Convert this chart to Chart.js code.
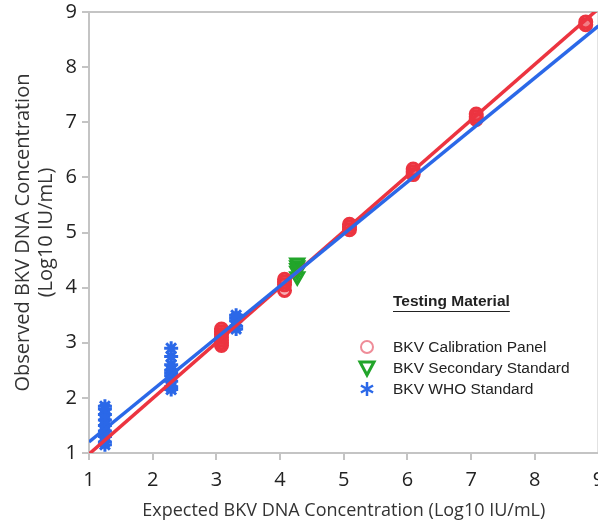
<!DOCTYPE html>
<html>
<head>
<meta charset="utf-8">
<script src="https://cdn.jsdelivr.net/npm/chart.js@4"></script>
<style>
  html, body { margin: 0; padding: 0; background: #fff; overflow: hidden; }
  #wrap { width: 598px; height: 523px; overflow: hidden; }
</style>
</head>
<body>
<div id="wrap"><canvas id="bkvChart" width="609" height="523"></canvas></div>
<script>
// tick labels
const tickValues = [1, 2, 3, 4, 5, 6, 7, 8, 9];

// BKV Calibration Panel (red circles)
const calibX = [3.08, 3.08, 3.08, 3.08, 3.08, 3.08, 3.08, 4.07, 4.07, 4.07, 4.07, 5.09, 5.09, 5.09, 6.09, 6.09, 6.09, 7.08, 7.08, 7.08, 8.8, 8.8];
const calibY = [2.95, 3.0, 3.05, 3.1, 3.15, 3.2, 3.25, 3.95, 4.05, 4.1, 4.15, 5.05, 5.1, 5.15, 6.05, 6.1, 6.15, 7.05, 7.1, 7.15, 8.77, 8.82];

// BKV Secondary Standard (green triangles)
const secX = [4.27, 4.27, 4.27, 4.27, 4.27];
const secY = [4.2, 4.3, 4.35, 4.4, 4.45];

// BKV WHO Standard (blue asterisks)
const whoX = [1.25, 1.25, 1.25, 1.25, 1.25, 1.25, 1.25, 1.25, 1.25, 2.29, 2.29, 2.29, 2.29, 2.29, 2.29, 2.29, 2.29, 2.29, 3.31, 3.31, 3.31, 3.31, 3.31];
const whoY = [1.15, 1.2, 1.3, 1.4, 1.5, 1.6, 1.7, 1.8, 1.85, 2.15, 2.2, 2.3, 2.4, 2.45, 2.5, 2.6, 2.75, 2.9, 3.25, 3.3, 3.4, 3.45, 3.5];

// fitted lines (end points)
const fitX = [1, 9];
const redFitY = [0.98, 9.06];
const blueFitY = [1.2, 8.75];

const RED = '#ec3440';
const BLUE = '#2b68e8';
const GREEN = '#22a52a';

function toPoints(xs, ys) {
    return xs.map((x, i) => ({ x: x, y: ys[i] }));
}

// frame around the plot area + custom legend
const framePlugin = {
    id: 'frame',
    beforeDatasetsDraw(chart) {
        const a = chart.chartArea;
        const c = chart.ctx;
        c.save();
        c.strokeStyle = '#c4c4c4';
        c.lineWidth = 2;
        c.strokeRect(a.left, a.top, a.right - a.left, a.bottom - a.top);
        c.restore();
    },
    afterDraw(chart) {
        const c = chart.ctx;
        c.save();
        c.fillStyle = '#222';
        c.font = 'bold 15.5px "Liberation Sans", Arial, sans-serif';
        c.textBaseline = 'middle';
        c.textAlign = 'left';
        c.fillText('Testing Material', 393, 302);
        const w = c.measureText('Testing Material').width;
        c.strokeStyle = '#222';
        c.lineWidth = 1;
        c.beginPath();
        c.moveTo(393, 311.5);
        c.lineTo(393 + w, 311.5);
        c.stroke();

        c.font = '15.5px "Liberation Sans", Arial, sans-serif';
        c.fillText('BKV Calibration Panel', 393, 348);
        c.fillText('BKV Secondary Standard', 393, 369);
        c.fillText('BKV WHO Standard', 393, 390);

        // circle
        c.strokeStyle = '#ef8c98';
        c.lineWidth = 2;
        c.beginPath();
        c.arc(367, 347, 6, 0, Math.PI * 2);
        c.stroke();
        // triangle down
        c.strokeStyle = GREEN;
        c.lineWidth = 3;
        c.beginPath();
        c.moveTo(360, 362);
        c.lineTo(374, 362);
        c.lineTo(367, 375);
        c.closePath();
        c.stroke();
        // asterisk
        c.strokeStyle = BLUE;
        c.lineWidth = 2.5;
        c.beginPath();
        for (let k = 0; k < 3; k++) {
            const ang = Math.PI / 2 + k * Math.PI / 3;
            c.moveTo(367 - 7 * Math.cos(ang), 389 - 7 * Math.sin(ang));
            c.lineTo(367 + 7 * Math.cos(ang), 389 + 7 * Math.sin(ang));
        }
        c.stroke();
        c.restore();
    }
};

const ctx = document.getElementById('bkvChart').getContext('2d');
const bkvChart = new Chart(ctx, {
    type: 'scatter',
    data: {
        datasets: [
            {
                label: 'BKV WHO Standard',
                data: toPoints(whoX, whoY),
                pointStyle: 'star',
                pointRadius: 7,
                borderWidth: 3,
                borderColor: BLUE,
                backgroundColor: BLUE,
                order: 3
            },
            {
                label: 'BKV Calibration Panel',
                data: toPoints(calibX, calibY),
                pointStyle: 'circle',
                pointRadius: 6,
                borderWidth: 3,
                borderColor: RED,
                backgroundColor: 'rgba(236,52,64,0.4)',
                order: 4
            },
            {
                label: 'BKV Secondary Standard',
                data: toPoints(secX, secY),
                pointStyle: 'triangle',
                rotation: 180,
                pointRadius: 7.5,
                borderWidth: 3,
                borderColor: GREEN,
                backgroundColor: 'rgba(34,165,42,0.3)',
                order: 2
            },
            {
                type: 'line',
                label: 'fit red',
                data: toPoints(fitX, redFitY),
                borderColor: RED,
                borderWidth: 3.5,
                pointRadius: 0,
                fill: false,
                order: 1
            },
            {
                type: 'line',
                label: 'fit blue',
                data: toPoints(fitX, blueFitY),
                borderColor: BLUE,
                borderWidth: 3.5,
                pointRadius: 0,
                fill: false,
                order: 0
            }
        ]
    },
    options: {
        responsive: false,
        animation: false,
        layout: { padding: { top: 12, right: 0, left: 0, bottom: 0 } },
        plugins: {
            legend: { display: false },
            tooltip: { enabled: false }
        },
        scales: {
            x: {
                type: 'linear',
                min: 1,
                max: 9,
                afterBuildTicks(scale) {
                    scale.ticks = tickValues.map(v => ({ value: v }));
                },
                afterFit(scale) {
                    scale.height = 70;
                    scale.paddingLeft = 0;
                    scale.paddingRight = 0;
                },
                grid: { drawOnChartArea: false, tickLength: 7, color: '#c4c4c4', lineWidth: 2 },
                border: { color: '#c4c4c4', width: 2 },
                ticks: {
                    padding: 8,
                    color: '#222',
                    font: { family: '"Open Sans", sans-serif', size: 20 }
                },
                title: {
                    display: true,
                    text: 'Expected BKV DNA Concentration (Log10 IU/mL)',
                    color: '#333',
                    padding: { top: 0, bottom: 1 },
                    font: { family: '"Open Sans", sans-serif', size: 18 }
                }
            },
            y: {
                type: 'linear',
                min: 1,
                max: 9,
                afterBuildTicks(scale) {
                    scale.ticks = tickValues.map(v => ({ value: v }));
                },
                afterFit(scale) {
                    scale.width = 89;
                    scale.paddingTop = 0;
                    scale.paddingBottom = 0;
                },
                grid: { drawOnChartArea: false, tickLength: 7, color: '#c4c4c4', lineWidth: 2 },
                border: { color: '#c4c4c4', width: 2 },
                ticks: {
                    padding: 5,
                    color: '#222',
                    font: { family: '"Open Sans", sans-serif', size: 20 }
                },
                title: {
                    display: true,
                    text: ['Observed BKV DNA Concentration', '(Log10 IU/mL)'],
                    color: '#333',
                    padding: { top: 12, bottom: 0 },
                    font: { family: '"Open Sans", sans-serif', size: 20, lineHeight: 1.15 }
                }
            }
        }
    },
    plugins: [framePlugin]
});
</script>
</body>
</html>
